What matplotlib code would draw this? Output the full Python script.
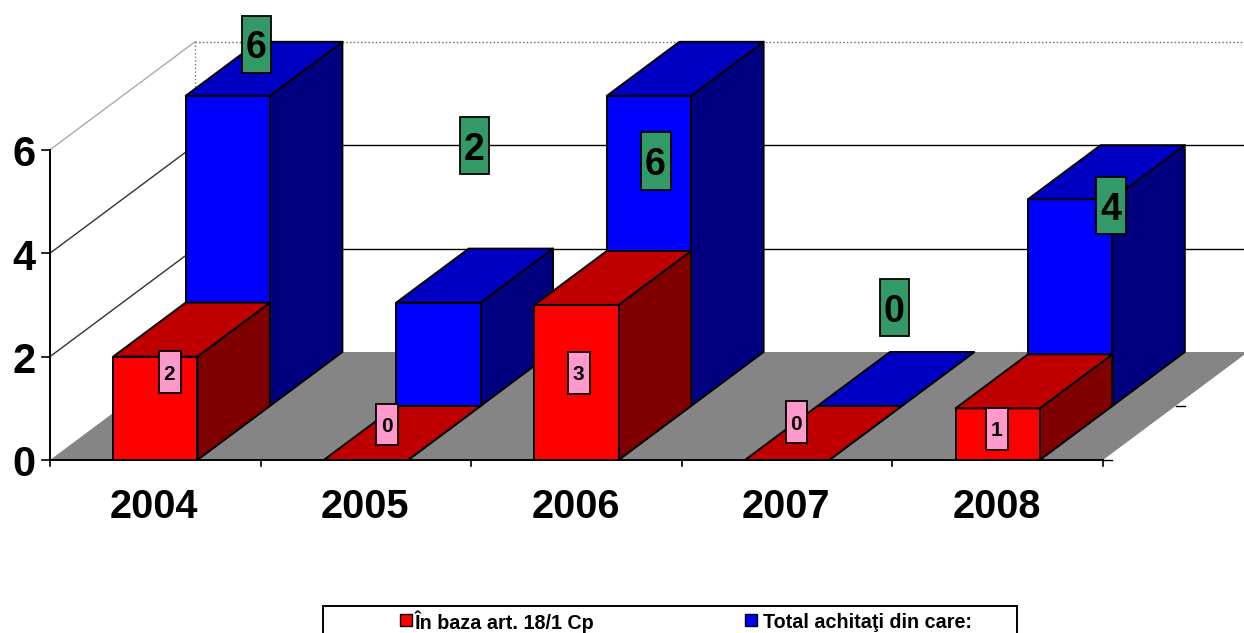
import matplotlib
matplotlib.use('Agg')
import matplotlib.pyplot as plt
from matplotlib.patches import Polygon, Rectangle

# date
years = ['2004', '2005', '2006', '2007', '2008']
art_18 = [2, 0, 3, 0, 1]
total_achitati = [6, 2, 6, 0, 4]
y_ticks = [0, 2, 4, 6]
legend_labels = ['În baza art. 18/1 Cp', 'Total achitaţi din care:']

# pozitia etichetelor (stanga, sus, dreapta, jos)
pink_boxes = [(159, 351, 181, 393), (376, 404, 398, 445), (568, 352, 590, 394),
              (786, 401, 807, 443), (986, 408, 1008, 450)]
green_boxes = [(242, 16, 271, 73), (460, 117, 489, 174), (641, 132, 671, 190),
               (880, 279, 909, 336), (1096, 177, 1126, 234)]

# proiectia oblica a graficului 3D in pixeli
X0, Y0 = 50, 460
CAT_W = 210.6
UNIT = 51.7
DEPTH_X, DEPTH_Y = 145, -108


def proj(cat, val, depth):
    return (X0 + cat * CAT_W + depth * DEPTH_X, Y0 - val * UNIT + depth * DEPTH_Y)


def poly(ax, pts, fc, ec='black', lw=1.4):
    ax.add_patch(Polygon(pts, closed=True, facecolor=fc, edgecolor=ec, linewidth=lw, joinstyle='round', zorder=2))


def bar3d(ax, i, val, d0, d1, front, top, side):
    c0, c1 = i + 0.3, i + 0.7
    poly(ax, [proj(c1, 0, d0), proj(c1, 0, d1), proj(c1, val, d1), proj(c1, val, d0)], side)
    poly(ax, [proj(c0, 0, d0), proj(c1, 0, d0), proj(c1, val, d0), proj(c0, val, d0)], front)
    poly(ax, [proj(c0, val, d0), proj(c1, val, d0), proj(c1, val, d1), proj(c0, val, d1)], top)


def label_box(ax, box, txt, fc, size, weight):
    l, t, r, b = box
    ax.add_patch(Rectangle((l, t), r - l, b - t, facecolor=fc, edgecolor='black', linewidth=1.3, zorder=5))
    ax.text((l + r) / 2 - 0.5, (t + b) / 2, txt, ha='center', va='center_baseline', fontsize=size,
            fontweight=weight, color='black', zorder=6)


plt.rcParams['font.family'] = ['Liberation Sans', 'DejaVu Sans']
fig = plt.figure(figsize=(12.44, 6.33), dpi=100)
ax = fig.add_axes([0, 0, 1, 1])
ax.set_xlim(0, 1244)
ax.set_ylim(633, 0)
ax.axis('off')

n = len(years)

# peretii si liniile de grila
for v in y_ticks[1:]:
    if v == y_ticks[-1]:
        ax.plot(*zip(proj(0, v, 0), proj(0, v, 1)), color='#aaaaaa', lw=1.0, zorder=1)
        ax.plot(*zip(proj(0, v, 1), proj(n, v, 1)), color='#666666', lw=1.0, ls=':', zorder=1)
    else:
        ax.plot(*zip(proj(0, v, 0), proj(0, v, 1)), color='#333333', lw=1.0, zorder=1)
        ax.plot(*zip(proj(0, v, 1), proj(n, v, 1)), color='black', lw=1.0, zorder=1)
ax.plot(*zip(proj(0, 0, 1), proj(0, y_ticks[-1], 1)), color='#777777', lw=1.0, ls=':', zorder=1)

# podeaua
poly(ax, [proj(0, 0, 0), proj(n, 0, 0), proj(n, 0, 1), proj(0, 0, 1)], '#858585', ec='none', lw=0)

for i in range(n):
    bar3d(ax, i, total_achitati[i], 0.5, 1, '#0000FF', '#0000C4', '#000080')
    bar3d(ax, i, art_18[i], 0, 0.5, '#FF0000', '#C00000', '#800000')

# axe
ax.plot(*zip(proj(0, 0, 0), proj(0, y_ticks[-1], 0)), color='black', lw=1.4, zorder=3)
ax.plot(*zip(proj(0, 0, 0), proj(n, 0, 0)), color='black', lw=1.4, zorder=3)
for v in y_ticks:
    x, y = proj(0, v, 0)
    ax.plot([x - 8, x], [y, y], color='black', lw=1.2, zorder=3)
    ax.text(24, y + (1 if v else 0), str(v), ha='center', va='center_baseline', fontsize=30, fontweight='bold')
for i in range(n + 1):
    x, y = proj(i, 0, 0)
    ax.plot([x, x], [y, y + 6], color='black', lw=1.2, zorder=3)
for d in [0, 0.5]:
    x, y = proj(n, 0, d)
    ax.plot([x, x + 9], [y, y], color='black', lw=1.0, zorder=3)
for i, yr in enumerate(years):
    x, y = proj(i + 0.5, 0, 0)
    ax.text(x - 1, 503, yr, ha='center', va='center_baseline', fontsize=28.5, fontweight='bold')

# etichete de valori
for box, v in zip(pink_boxes, art_18):
    label_box(ax, box, str(v), '#FF99CC', 15, 'bold')
for box, v in zip(green_boxes, total_achitati):
    label_box(ax, box, str(v), '#339966', 27, 'bold')

# legenda, taiata de marginea de jos ca in original
ax.add_patch(Rectangle((323, 606), 694, 40, facecolor='white', edgecolor='black', linewidth=1.4))
for sx, tx, col, lab in [(400, 415, '#FF0000', legend_labels[0]), (745, 763, '#0000FF', legend_labels[1])]:
    ax.add_patch(Rectangle((sx, 614), 12, 12, facecolor=col, edgecolor='black', linewidth=1.0))
    ax.text(tx, 620, lab, ha='left', va='center_baseline', fontsize=14.2, fontweight='bold')

fig.savefig('out.png', dpi=100)
